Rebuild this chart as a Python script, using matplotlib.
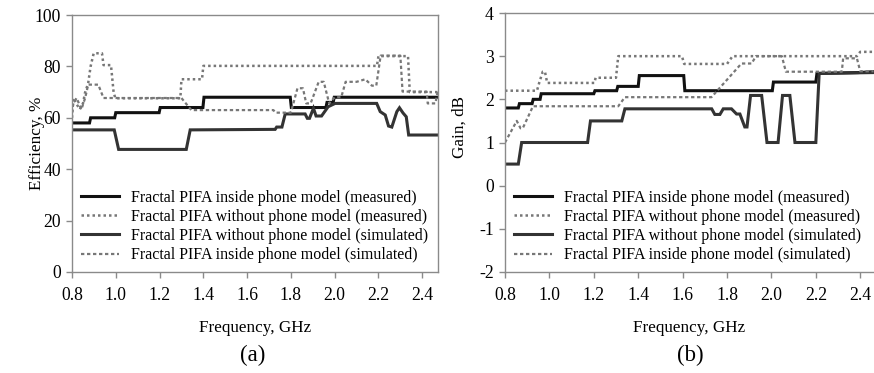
import numpy as np
import matplotlib
matplotlib.use('Agg')
import matplotlib.pyplot as plt

plt.rcParams['font.family'] = ['Liberation Serif', 'DejaVu Serif']
plt.rcParams['axes.unicode_minus'] = False

legend_labels = ['Fractal PIFA inside phone model (measured)',
                 'Fractal PIFA without phone model (measured)',
                 'Fractal PIFA without phone model (simulated)',
                 'Fractal PIFA inside phone model (simulated)']

# (a) efficiency, %
eff_s1_f = [0.80, 0.88, 0.885, 0.995, 1.0, 1.198, 1.203, 1.398, 1.403, 1.797, 1.802,
            1.96, 1.965, 1.993, 1.998, 2.48]
eff_s1_v = [58, 58, 60, 60, 62, 62, 64, 64, 68, 68, 64, 64, 66, 66, 68, 68]

eff_s2_f = [0.80, 0.993, 1.013, 1.322, 1.34, 1.728, 1.735, 1.759, 1.774, 1.865, 1.875,
            1.885, 1.903, 1.915, 1.94, 1.97, 2.002, 2.192, 2.208, 2.231, 2.246, 2.261,
            2.284, 2.296, 2.312, 2.327, 2.338, 2.48]
eff_s2_v = [55.3, 55.3, 47.7, 47.7, 55.3, 55.5, 56.4, 56.4, 61.5, 61.5, 59.8, 59.8,
            63.7, 60.7, 60.7, 64.3, 65.6, 65.6, 62.4, 61.1, 56.8, 56.4, 62.4, 63.9,
            61.9, 60.4, 53.3, 53.3]

eff_d1_f = [0.80, 0.806, 0.821, 0.836, 0.851, 0.859, 0.874, 0.885, 0.899, 0.937, 0.944,
            0.978, 0.99, 0.998, 1.295, 1.30, 1.394, 1.40, 2.193, 2.20, 2.335, 2.343, 2.48]
eff_d1_v = [60, 67.7, 65.3, 63.3, 65.8, 69.6, 73.5, 80, 85.1, 85.1, 80.5, 80.5, 70,
            67.6, 67.6, 75, 75, 80.2, 80.2, 84, 84, 70, 70]

eff_d2_f = [0.80, 0.806, 0.821, 0.843, 0.86, 0.874, 0.889, 0.92, 0.944, 1.30, 1.345,
            1.72, 1.73, 1.80, 1.83, 1.855, 1.87, 1.89, 1.927, 1.95, 1.975, 2.0, 2.03,
            2.05, 2.10, 2.14, 2.17, 2.19, 2.21, 2.30, 2.31, 2.42, 2.425, 2.46, 2.47]
eff_d2_v = [62, 65.6, 67.7, 63.3, 67.7, 72.9, 72.9, 72.9, 67.7, 67.7, 63, 63, 62, 62,
            71.5, 71.5, 65.6, 65.6, 74, 74, 65.6, 68, 68, 74, 74, 75, 72.5, 72.5, 84.2,
            84.2, 70.2, 70.2, 65.6, 65.6, 70]

# (b) gain, dB
gain_s1_f = [0.80, 0.86, 0.865, 0.922, 0.927, 0.958, 0.963, 1.2, 1.205, 1.303, 1.308,
             1.40, 1.405, 1.605, 1.61, 2.004, 2.009, 2.2, 2.205, 2.39, 2.46]
gain_s1_v = [1.8, 1.8, 1.9, 1.9, 2.0, 2.0, 2.13, 2.13, 2.2, 2.2, 2.3, 2.3, 2.55, 2.55,
             2.2, 2.2, 2.4, 2.4, 2.6, 2.62, 2.64]

gain_s2_f = [0.80, 0.86, 0.875, 1.172, 1.185, 1.326, 1.34, 1.731, 1.745, 1.768, 1.783,
             1.82, 1.843, 1.858, 1.88, 1.89, 1.906, 1.956, 1.98, 2.03, 2.05, 2.083,
             2.106, 2.2, 2.215, 2.46]
gain_s2_v = [0.5, 0.5, 1.0, 1.0, 1.5, 1.5, 1.78, 1.78, 1.65, 1.65, 1.78, 1.78, 1.66,
             1.66, 1.36, 1.36, 2.09, 2.09, 1.0, 1.0, 2.09, 2.09, 1.0, 1.0, 2.6, 2.62]

gain_d1_f = [0.80, 0.944, 0.955, 0.97, 0.98, 0.99, 1.203, 1.208, 1.30, 1.31, 1.597,
             1.607, 1.80, 1.825, 2.385, 2.40, 2.46]
gain_d1_v = [2.2, 2.2, 2.4, 2.64, 2.64, 2.38, 2.38, 2.5, 2.5, 3.0, 3.0, 2.82, 2.82,
             3.0, 3.0, 3.1, 3.1]

gain_d2_f = [0.80, 0.853, 0.87, 0.88, 0.926, 0.944, 1.31, 1.34, 1.73, 1.865, 1.911,
             1.93, 2.047, 2.065, 2.317, 2.323, 2.385, 2.40, 2.46]
gain_d2_v = [1.0, 1.5, 1.33, 1.33, 1.84, 1.84, 1.84, 2.05, 2.05, 2.83, 2.83, 3.0, 3.0,
             2.64, 2.64, 2.95, 2.95, 2.65, 2.65]

freq_ticks = [0.8, 1.0, 1.2, 1.4, 1.6, 1.8, 2.0, 2.2, 2.4]
eff_ticks = [0, 20, 40, 60, 80, 100]
gain_ticks = [-2, -1, 0, 1, 2, 3, 4]

FS = 12.3
LEG_FS = 11.5


def style_axis(ax):
    for side in ['top', 'right', 'left', 'bottom']:
        ax.spines[side].set_color('#8a8a8a')
        ax.spines[side].set_linewidth(1.0)
    ax.tick_params(direction='out', length=4, width=1, color='#8a8a8a',
                   labelsize=FS + 0.4)
    ax.tick_params(axis='x', pad=7)
    ax.tick_params(axis='y', pad=4)
    ax.set_xticks(freq_ticks)
    ax.set_xticklabels([f'{t:.1f}' for t in freq_ticks])


def draw_panel(ax, curves):
    styles = [dict(color='#111111', lw=2.2, ls='-'),
              dict(color='#777777', lw=1.8, ls=(0, (1, 1.2))),
              dict(color='#333333', lw=2.2, ls='-'),
              dict(color='#777777', lw=1.6, ls=(0, (1.5, 1.2)))]
    for (f, v), st, lab in zip(curves, styles, legend_labels):
        ax.plot(f, v, label=lab, solid_joinstyle='miter', **st)
    ax.legend(loc='lower left', bbox_to_anchor=(0.0, 0.0), frameon=False,
              fontsize=LEG_FS, handlelength=2.4, handletextpad=0.75, labelspacing=0.2,
              borderaxespad=0.15)


fig = plt.figure(figsize=(8.74, 3.73), dpi=100)
ax1 = fig.add_axes([72 / 874, 101 / 373, 366 / 874, 257 / 373])
ax2 = fig.add_axes([505 / 874, 101 / 373, 369 / 874, 259 / 373])

draw_panel(ax1, [(eff_s1_f, eff_s1_v), (eff_d1_f, eff_d1_v),
                 (eff_s2_f, eff_s2_v), (eff_d2_f, eff_d2_v)])
style_axis(ax1)
ax1.set_xlim(0.8, 2.472)
ax1.set_ylim(0, 100)
ax1.set_yticks(eff_ticks)
ax1.set_ylabel('Efficiency, %', fontsize=FS)
ax1.yaxis.set_label_coords(-0.075, 0.5)
ax1.set_xlabel('Frequency, GHz', fontsize=FS, labelpad=11)

draw_panel(ax2, [(gain_s1_f, gain_s1_v), (gain_d1_f, gain_d1_v),
                 (gain_s2_f, gain_s2_v), (gain_d2_f, gain_d2_v)])
style_axis(ax2)
ax2.spines['right'].set_visible(False)
ax2.set_xlim(0.8, 2.462)
ax2.set_ylim(-2, 4)
ax2.set_yticks(gain_ticks)
ax2.set_ylabel('Gain, dB', fontsize=FS)
ax2.yaxis.set_label_coords(-0.1, 0.56)
ax2.set_xlabel('Frequency, GHz', fontsize=FS, labelpad=11)

fig.text(253 / 874, 1 - 355 / 373, '(a)', fontsize=16.5, ha='center', va='center')
fig.text(690 / 874, 1 - 355 / 373, '(b)', fontsize=16.5, ha='center', va='center')

fig.savefig('out.png', dpi=100)
